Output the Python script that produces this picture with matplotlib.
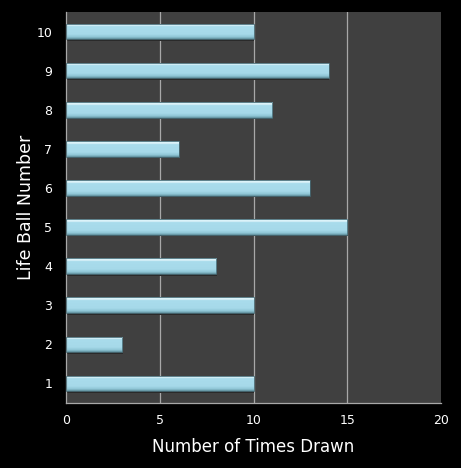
import matplotlib
matplotlib.use("Agg")
import matplotlib.pyplot as plt
import numpy as np
from matplotlib.colors import LinearSegmentedColormap

categories = ["1", "2", "3", "4", "5", "6", "7", "8", "9", "10"]
values = [10, 3, 10, 8, 15, 13, 6, 11, 14, 10]
xticks = [0, 5, 10, 15, 20]

plt.rcParams['font.family'] = ['DejaVu Sans']

fig = plt.figure(figsize=(4.61, 4.68), dpi=100, facecolor="black")
ax = fig.add_axes([66/461, 65/468, 375/461, 391/468])
ax.set_facecolor("#404040")

ypos = np.arange(len(categories))
h = 0.4
cmap = LinearSegmentedColormap.from_list(
    "bar", [(0.0, "#5f8f9c"), (0.12, "#8fc6d6"), (0.3, "#a6d9e9"),
            (0.8, "#a9dcec"), (0.88, "#e6f7fc"), (1.0, "#c8ebf5")])
grad = np.linspace(0, 1, 64).reshape(-1, 1)

ax.set_xlim(0, 20)
ax.set_ylim(-0.5, len(categories) - 0.5)

for x in xticks[1:-1]:
    ax.axvline(x, color="#a8a8a8", lw=0.9, zorder=1)

bars = ax.barh(ypos, values, height=h, color="none", edgecolor="#4a6e78",
               lw=0.6, zorder=3)
for b, v, y in zip(bars, values, ypos):
    ax.barh(y - 0.04, v, height=h, left=0.05, color="#2a2a2a", zorder=2)
    im = ax.imshow(grad, cmap=cmap, aspect="auto", origin="lower",
                   extent=[0, v, y - h/2, y + h/2], zorder=2.5)
    im.set_clip_path(b)

ax.set_xticks(xticks)
ax.set_xticklabels([str(t) for t in xticks])
ax.set_yticks(ypos)
ax.set_yticklabels(categories)
ax.tick_params(axis="x", colors="white", labelsize=9, length=0, pad=8)
ax.tick_params(axis="y", colors="white", labelsize=9, length=0, pad=10)
for lab in ax.get_xticklabels() + ax.get_yticklabels():
    lab.set_color("white")

for side in ["top", "right"]:
    ax.spines[side].set_visible(False)
for side in ["left", "bottom"]:
    ax.spines[side].set_color("#a8a8a8")
    ax.spines[side].set_linewidth(0.9)

ax.set_xlabel("Number of Times Drawn", color="white", fontsize=12, labelpad=8)
ax.set_ylabel("Life Ball Number", color="white", fontsize=12.5, labelpad=1)

fig.savefig("out.png", dpi=100, facecolor="black")
